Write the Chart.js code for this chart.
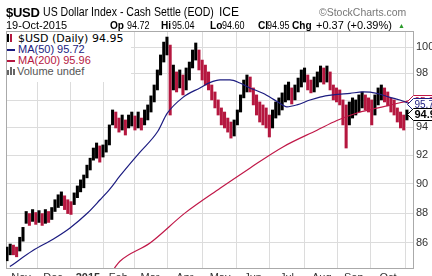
<!DOCTYPE html>
<html>
<head>
<meta charset="utf-8">
<script src="https://cdn.jsdelivr.net/npm/chart.js@4.4.1/dist/chart.umd.min.js"></script>
<style>
  body { margin: 0; background: #fff; }
  #wrap { position: relative; width: 432px; height: 276px; overflow: hidden; font-family: "Liberation Sans", Arial, sans-serif; color: #000; }
  canvas { position: absolute; left: 0; top: 0; }
  .t { position: absolute; white-space: nowrap; line-height: 1; transform-origin: left top; }
  .b { font-weight: bold; font-size: 11px; transform: scaleX(0.92); }
  .n { font-size: 11px; transform: scaleX(0.82); }
  #legend { position: absolute; left: 7px; top: 32px; width: 124px; height: 50px; background: #fff; }
  #legend div { position: absolute; left: 0; white-space: nowrap; line-height: 1; }
  .dash { display: inline-block; width: 8px; height: 2px; vertical-align: middle; margin-right: 3px; }
</style>
</head>
<body>
<div id="wrap">
  <canvas id="chart" width="432" height="276"></canvas>

  <div class="t" style="left:6px;top:6px;font-weight:bold;font-size:13px;letter-spacing:-0.3px">$USD</div>
  <div class="t" style="left:43px;top:6px;font-size:12px;transform:scaleX(0.88)">US Dollar Index - Cash Settle (EOD)</div>
  <div class="t" style="left:219px;top:6px;font-size:12px">ICE</div>
  <div class="t" style="left:319px;top:7px;font-size:11px;color:#777;transform:scaleX(0.95)">©StockCharts.com</div>

  <div class="t" style="left:6px;top:20px;font-size:11px">19-Oct-2015</div>
  <div class="t b" style="left:110px;top:20px">Op</div>
  <div class="t n" style="left:127px;top:20px">94.72</div>
  <div class="t b" style="left:161px;top:20px">Hi</div>
  <div class="t n" style="left:172px;top:20px">95.04</div>
  <div class="t b" style="left:210px;top:20px">Lo</div>
  <div class="t n" style="left:222px;top:20px">94.60</div>
  <div class="t b" style="left:258px;top:20px">Cl</div>
  <div class="t n" style="left:267px;top:20px">94.95</div>
  <div class="t b" style="left:292px;top:20px">Chg</div>
  <div class="t" style="left:316px;top:20px;font-size:11px">+0.37 (+0.39%)</div>
  <div class="t" style="left:398px;top:22px;font-size:7px;color:#2a9a2a">▲</div>

  <div id="legend">
    <div style="top:1px;font-family:'DejaVu Sans';font-size:11px">
      <span style="display:inline-block;width:2px;height:8px;background:#000;margin-right:1px"></span><span style="display:inline-block;width:2px;height:8px;background:#b5173f;margin-right:6px"></span>$USD (Daily) 94.95
    </div>
    <div style="top:12px;font-size:11px;color:#1c1c80"><span class="dash" style="background:#1c1c80"></span>MA(50) 95.72</div>
    <div style="top:23px;font-size:11px;color:#b5173f"><span class="dash" style="background:#b5173f"></span>MA(200) 95.96</div>
    <div style="top:34px;font-size:11px;color:#555"><span style="display:inline-block;width:2px;height:5px;background:#666;margin-right:1px"></span><span style="display:inline-block;width:2px;height:8px;background:#666;margin-right:1px"></span><span style="display:inline-block;width:2px;height:6px;background:#666;margin-right:2px"></span>Volume undef</div>
  </div>
</div>
<script>
// month tick positions are in 2-day bar units
const monthTicks = [4.4, 14.4, 25.3, 34.8, 44.7, 55.6, 66.6, 76.9, 87.5, 98.4, 108.4, 119.1];
const monthLabels = ['Nov', 'Dec', '2015', 'Feb', 'Mar', 'Apr', 'May', 'Jun', 'Jul', 'Aug', 'Sep', 'Oct'];
const yTicks = [86, 88, 90, 92, 94, 96, 98, 100];

// high / low of each 2-day bar, Oct 2014 -> Oct 2015
const priceHigh = [
  85.73, 85.93, 85.86, 85.73, 86.38, 87.04, 88.11, 87.97, 88.24, 88.04,
  88.17, 87.97, 88.24, 88.11, 88.38, 88.91, 89.25, 89.45, 89.18, 88.91,
  88.78, 89.38, 89.86, 90.28, 90.62, 91.31, 91.80, 92.52, 92.88, 92.67,
  92.74, 93.09, 94.18, 95.27, 95.12, 94.68, 94.90, 94.54, 94.90, 95.12,
  94.83, 95.12, 94.68, 95.27, 95.64, 96.31, 97.12, 98.25, 99.39, 100.38,
  100.77, 100.15, 98.62, 98.10, 98.25, 97.87, 98.40, 98.85, 99.77, 100.31,
  99.77, 99.00, 98.62, 98.10, 97.12, 96.60, 96.01, 95.42, 95.12, 94.68,
  94.39, 94.54, 95.27, 96.38, 97.49, 97.87, 97.72, 96.90, 96.38, 95.86,
  95.64, 95.42, 94.90, 95.27, 95.86, 96.16, 96.53, 97.12, 97.34, 96.90,
  97.12, 97.64, 98.25, 98.40, 97.87, 97.49, 97.72, 98.10, 98.55, 98.40,
  98.55, 98.10, 97.12, 96.90, 96.75, 96.01, 95.64, 95.86, 96.16, 96.01,
  96.38, 96.60, 96.38, 96.16, 96.01, 96.38, 96.90, 97.12, 96.90, 96.60,
  96.16, 96.01, 95.42, 95.12, 94.90, 95.27
];
const priceLow = [
  84.83, 85.22, 85.22, 85.09, 85.47, 86.12, 87.31, 87.17, 87.44, 87.24,
  87.37, 87.17, 87.31, 87.37, 87.57, 88.11, 88.38, 88.51, 88.24, 87.97,
  87.91, 88.58, 89.05, 89.45, 89.73, 90.42, 90.97, 91.66, 91.80, 91.52,
  91.88, 92.23, 92.74, 94.18, 93.96, 93.66, 93.81, 93.45, 93.96, 94.10,
  93.81, 93.96, 93.81, 94.18, 94.54, 95.12, 95.86, 96.75, 97.87, 98.85,
  99.39, 94.90, 96.75, 96.60, 96.90, 96.38, 96.75, 97.49, 98.40, 99.00,
  98.25, 97.49, 97.12, 96.75, 96.01, 95.42, 94.90, 94.18, 93.96, 93.66,
  93.23, 93.38, 94.18, 95.12, 96.16, 96.60, 96.60, 95.64, 94.90, 94.39,
  94.18, 93.96, 93.31, 93.96, 94.68, 94.90, 95.27, 95.86, 96.01, 95.71,
  96.01, 96.60, 96.97, 97.34, 96.75, 96.53, 96.60, 96.97, 97.34, 97.19,
  97.34, 96.75, 96.01, 95.86, 95.64, 94.18, 92.52, 94.18, 94.68, 94.90,
  95.12, 95.42, 95.27, 95.12, 94.18, 94.90, 95.64, 96.01, 95.86, 95.57,
  95.12, 94.90, 94.39, 93.96, 93.81, 94.54
];

const ma50Pos = [0.9, 8.1, 14.4, 19.7, 25, 29.1, 32.2, 35.3, 41.3, 47.2, 50, 55, 60.3, 63.4, 66.6, 69.7, 72.8, 75.9, 80, 84.4, 87.5, 90.6, 94.7, 97.8, 101.9, 107.2, 111.3, 115.6, 119.7, 122.8, 125.9];
const ma50Val = [84.45, 85.5, 86.25, 87.0, 87.97, 88.91, 89.66, 90.55, 92.16, 93.74, 95.0, 96.2, 96.9, 97.3, 97.5, 97.5, 97.27, 96.9, 96.5, 95.9, 95.5, 95.64, 96.0, 96.22, 96.38, 96.5, 96.6, 96.5, 96.2, 96.0, 95.72];
const ma200Pos = [33.4, 35.3, 44.7, 55.6, 66.6, 75.9, 86.25, 96.9, 103.1, 109.4, 115.6, 122.8, 125.9];
const ma200Val = [84.3, 84.8, 86.0, 88.0, 89.7, 91.1, 92.6, 93.8, 94.5, 95.05, 95.4, 95.8, 95.96];

const lastClose = 94.95;
const lastMa50 = 95.72;
const lastMa200 = 95.96;

const UP = '#000000';
const DOWN = '#b5173f';
const NAVY = '#1c1c80';
const CRIMSON = '#c01848';

const bars = priceHigh.map((h, i) => ({ x: i, y: [priceLow[i], h] }));
const barColors = priceHigh.map((h, i) => {
  if (i === 0) return UP;
  const mid = (h + priceLow[i]) / 2;
  const prev = (priceHigh[i - 1] + priceLow[i - 1]) / 2;
  return mid >= prev ? UP : DOWN;
});

// frame round the plot area
const framePlugin = {
  id: 'frame',
  beforeDatasetsDraw(chart) {
    const { ctx, chartArea: a } = chart;
    ctx.save();
    ctx.strokeStyle = '#aaa';
    ctx.lineWidth = 1;
    ctx.strokeRect(Math.round(a.left) + 0.5, Math.round(a.top) + 0.5, a.right - a.left, a.bottom - a.top);
    ctx.restore();
  }
};

// last value tags on the right axis
const tagPlugin = {
  id: 'tags',
  afterDraw(chart) {
    const { ctx, chartArea: a } = chart;
    const ys = chart.scales.y;
    const tags = [
      [lastMa200, CRIMSON, CRIMSON, false],
      [lastMa50, NAVY, NAVY, false],
      [lastClose, '#000', '#000', true]
    ];
    ctx.save();
    tags.forEach(([v, stroke, color, bold]) => {
      const y = Math.round(ys.getPixelForValue(v)) + 0.5;
      const x = a.right - 5.5;
      ctx.beginPath();
      ctx.moveTo(x, y);
      ctx.lineTo(x + 6, y - 6);
      ctx.lineTo(440, y - 6);
      ctx.lineTo(440, y + 6);
      ctx.lineTo(x + 6, y + 6);
      ctx.closePath();
      ctx.fillStyle = '#fff';
      ctx.fill();
      ctx.strokeStyle = stroke;
      ctx.lineWidth = 1;
      ctx.stroke();
      ctx.fillStyle = color;
      ctx.font = (bold ? 'bold 11px' : '10px') + ' "Liberation Sans", Arial, sans-serif';
      ctx.textBaseline = 'middle';
      ctx.textAlign = 'left';
      ctx.fillText(v.toFixed(2), x + 7, y + 0.5);
    });
    ctx.restore();
  }
};

new Chart(document.getElementById('chart').getContext('2d'), {
  type: 'bar',
  data: {
    datasets: [
      {
        type: 'bar',
        data: bars,
        backgroundColor: barColors,
        borderWidth: 0,
        barThickness: 2.4,
        grouped: false,
        order: 3
      },
      {
        type: 'line',
        data: ma200Pos.map((p, i) => ({ x: p, y: ma200Val[i] })),
        borderColor: CRIMSON,
        borderWidth: 1.2,
        pointRadius: 0,
        cubicInterpolationMode: 'monotone',
        order: 2
      },
      {
        type: 'line',
        data: ma50Pos.map((p, i) => ({ x: p, y: ma50Val[i] })),
        borderColor: NAVY,
        borderWidth: 1.2,
        pointRadius: 0,
        cubicInterpolationMode: 'monotone',
        order: 1
      }
    ]
  },
  options: {
    responsive: false,
    animation: false,
    layout: { padding: { left: 6, top: 31, right: 0, bottom: 0 } },
    plugins: { legend: { display: false }, tooltip: { enabled: false } },
    scales: {
      x: {
        type: 'linear',
        min: -0.31,
        max: 126.9,
        offset: false,
        afterBuildTicks: s => { s.ticks = monthTicks.map(v => ({ value: v })); },
        afterFit: s => { s.height = 8; s.paddingLeft = 0; s.paddingRight = 0; },
        grid: { color: '#dcdcdc', drawTicks: false },
        border: { color: '#999' },
        ticks: {
          autoSkip: false,
          maxRotation: 0,
          padding: 3.5,
          color: '#333',
          font: c => ({ family: 'Liberation Sans', size: 11, weight: monthLabels[c.index] === '2015' ? 'bold' : 'normal' }),
          callback: (v, i) => monthLabels[i]
        }
      },
      y: {
        type: 'logarithmic',
        position: 'right',
        min: 84.36,
        max: 101.24,
        afterBuildTicks: s => { s.ticks = yTicks.map(v => ({ value: v })); },
        afterFit: s => { s.width = 19; s.paddingTop = 0; s.paddingBottom = 0; },
        grid: { color: '#dcdcdc', drawTicks: false },
        border: { color: '#999' },
        ticks: {
          padding: 3,
          color: '#333',
          font: { family: 'Liberation Sans', size: 11 },
          callback: v => String(v)
        }
      }
    }
  },
  plugins: [framePlugin, tagPlugin]
});
</script>
</body>
</html>
